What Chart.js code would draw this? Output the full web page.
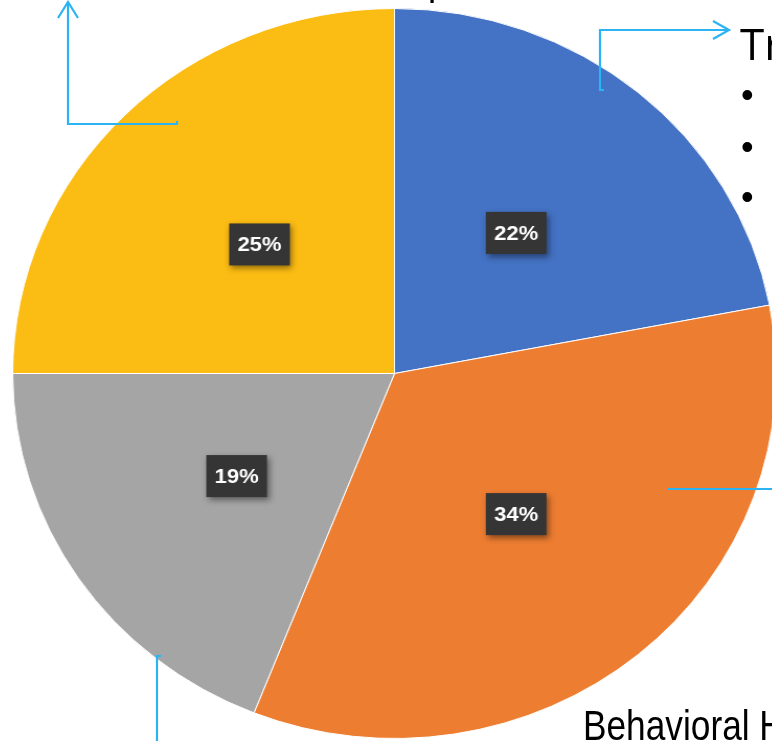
<!DOCTYPE html>
<html>
<head>
<meta charset="utf-8">
<script src="https://cdn.jsdelivr.net/npm/chart.js@4.4.0/dist/chart.umd.min.js"></script>
<style>
  html, body { margin: 0; padding: 0; background: #ffffff; }
  body { width: 772px; height: 741px; overflow: hidden; position: relative; }
  #wrap {
    position: absolute; left: 29px; top: 8px; width: 731px; height: 731px;
    transform: scaleX(1.046); transform-origin: 365.5px 365.5px;
  }
  #overlay { position: absolute; left: 0; top: 0; width: 772px; height: 741px; pointer-events: none; }
</style>
</head>
<body>
<div id="wrap"><canvas id="c"></canvas></div>
<svg id="overlay" width="772" height="741" viewBox="0 0 772 741">
  <g stroke="#2BB3F3" stroke-width="2.2" fill="none" stroke-linecap="butt">
    <!-- top-left connector -->
    <polyline points="177,121 177,124 68,124 68,2"/>
    <polyline points="58,18 68,2 78,18"/>
    <!-- top-right connector -->
    <polyline points="604,90 600,90 600,30 729,30"/>
    <polyline points="713,21 729,30 713,39"/>
    <!-- right connector -->
    <line x1="668" y1="489" x2="772" y2="489"/>
    <!-- bottom connector -->
    <polyline points="161,656 157,656 157,741"/>
  </g>
  <g fill="#000000">
    <text x="427" y="-7" font-family="Open Sans" font-size="40">p</text>
    <text x="740" y="60" font-family="Open Sans" font-size="44">Tr</text>
    <text x="741" y="107" font-family="Liberation Sans" font-size="36">•</text>
    <text x="741" y="159" font-family="Liberation Sans" font-size="36">•</text>
    <text x="741" y="209" font-family="Liberation Sans" font-size="36">•</text>
    <text transform="translate(583,740) scale(0.82,1)" font-family="Liberation Sans" font-size="43">Behavioral H</text>
  </g>
</svg>
<script>
const categories = ["Category 1", "Category 2", "Category 3", "Category 4"];
const shares = [22, 34, 19, 25];
const sliceColors = ["#4472C4", "#ED7D31", "#A5A5A5", "#FBBC13"];

const boxLabels = {
  id: 'boxLabels',
  afterDatasetsDraw(chart) {
    const ctx = chart.ctx;
    const meta = chart.getDatasetMeta(0);
    const data = chart.data.datasets[0].data;
    meta.data.forEach((arc, i) => {
      const p = arc.tooltipPosition();
      const w = 58, h = 42;
      ctx.save();
      ctx.shadowColor = 'rgba(0,0,0,0.45)';
      ctx.shadowBlur = 6;
      ctx.shadowOffsetX = 2;
      ctx.shadowOffsetY = 3;
      ctx.fillStyle = '#353535';
      ctx.fillRect(p.x - w / 2, p.y - h / 2, w, h);
      ctx.restore();
      ctx.save();
      ctx.fillStyle = '#ffffff';
      ctx.font = 'bold 21px "Liberation Sans", Arial, sans-serif';
      ctx.textAlign = 'center';
      ctx.textBaseline = 'middle';
      ctx.fillText(data[i] + '%', p.x, p.y + 1);
      ctx.restore();
    });
  }
};

new Chart(document.getElementById('c'), {
  type: 'pie',
  data: {
    labels: categories,
    datasets: [{
      data: shares,
      backgroundColor: sliceColors,
      borderColor: '#ffffff',
      borderWidth: 1
    }]
  },
  options: {
    responsive: true,
    maintainAspectRatio: false,
    animation: false,
    layout: { padding: 0 },
    plugins: { legend: { display: false }, tooltip: { enabled: false } }
  },
  plugins: [boxLabels]
});
</script>
</body>
</html>
